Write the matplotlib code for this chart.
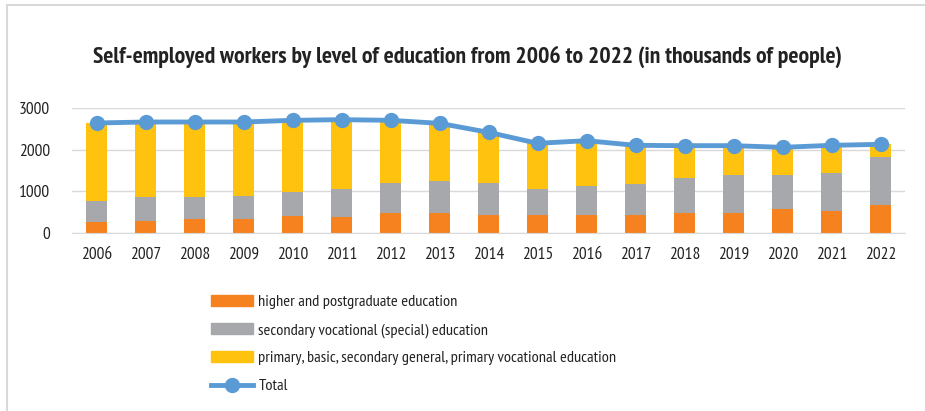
import matplotlib.pyplot as plt
from matplotlib.lines import Line2D
import numpy as np

plt.rcParams['font.family'] = ['PT Sans Narrow', 'DejaVu Sans']

years = ['2006', '2007', '2008', '2009', '2010', '2011', '2012', '2013', '2014',
         '2015', '2016', '2017', '2018', '2019', '2020', '2021', '2022']
higher = [272, 296, 328, 344, 416, 392, 472, 488, 440,
          424, 424, 440, 472, 488, 568, 536, 680]
secondary_voc = [504, 560, 544, 552, 576, 672, 736, 768, 768,
                 640, 712, 744, 856, 912, 816, 912, 1136]
primary = [1864, 1808, 1792, 1768, 1712, 1656, 1496, 1376, 1208,
           1088, 1080, 920, 768, 696, 672, 656, 312]
total = [2640, 2664, 2664, 2664, 2704, 2720, 2704, 2632, 2416,
         2152, 2216, 2104, 2096, 2096, 2056, 2104, 2128]

c_orange = '#F5821F'
c_gray = '#A7A8AB'
c_yellow = '#FFC20E'
c_blue = '#5B9BD5'

fig = plt.figure(figsize=(9.25, 4.11), dpi=100)
ax = fig.add_axes([72 / 925, 1 - 233 / 411, 833 / 925, 125 / 411])

x = np.arange(len(years))
w = 0.41
ax.bar(x, higher, w, color=c_orange, zorder=2)
ax.bar(x, secondary_voc, w, bottom=higher, color=c_gray, zorder=2)
bottom2 = np.array(higher) + np.array(secondary_voc)
ax.bar(x, primary, w, bottom=bottom2, color=c_yellow, zorder=2)
ax.plot(x, total, color=c_blue, linewidth=3.5, marker='o', markersize=10, zorder=3, clip_on=False)

ax.set_xlim(-0.5, len(years) - 0.5)
ax.set_ylim(0, 3000)
ax.set_yticks([0, 1000, 2000, 3000])
ax.set_xticks(x)
ax.set_xticklabels(years)
ax.tick_params(axis='both', length=0, labelsize=12.5, colors='#222222')
ax.tick_params(axis='x', pad=10)
ax.tick_params(axis='y', pad=16)
ax.grid(axis='y', color='#D9D9D9', linewidth=1, zorder=0)
for s in ['top', 'right', 'left']:
    ax.spines[s].set_visible(False)
ax.spines['bottom'].set_color('#D9D9D9')

fig.text(467 / 925, 1 - 57 / 411, 'Self-employed workers by level of education from 2006 to 2022 (in thousands of people)',
         ha='center', va='center', fontsize=17, fontweight='bold', color='#222222')

handles = [
    plt.Rectangle((0, 0), 1, 1, color=c_orange),
    plt.Rectangle((0, 0), 1, 1, color=c_gray),
    plt.Rectangle((0, 0), 1, 1, color=c_yellow),
    Line2D([0], [0], color=c_blue, linewidth=3.5, marker='o', markersize=10),
]
labels = ['higher and postgraduate education',
          'secondary vocational (special) education',
          'primary, basic, secondary general, primary vocational education',
          'Total']
fig.legend(handles, labels, loc='upper left', bbox_to_anchor=(196 / 925, 1 - 280 / 411),
           frameon=False, fontsize=11.8, handlelength=2.6, handleheight=0.7,
           labelspacing=0.82, handletextpad=0.3, labelcolor='#222222')

# thin border on the left and top edges of the picture
fig.add_artist(Line2D([6.5 / 925, 6.5 / 925], [0, 1 - 5.5 / 411], color='#D9D9D9', linewidth=1.5))
fig.add_artist(Line2D([6.5 / 925, 1], [1 - 5.5 / 411, 1 - 5.5 / 411], color='#D9D9D9', linewidth=1.5))

fig.savefig('out.png', dpi=100)
